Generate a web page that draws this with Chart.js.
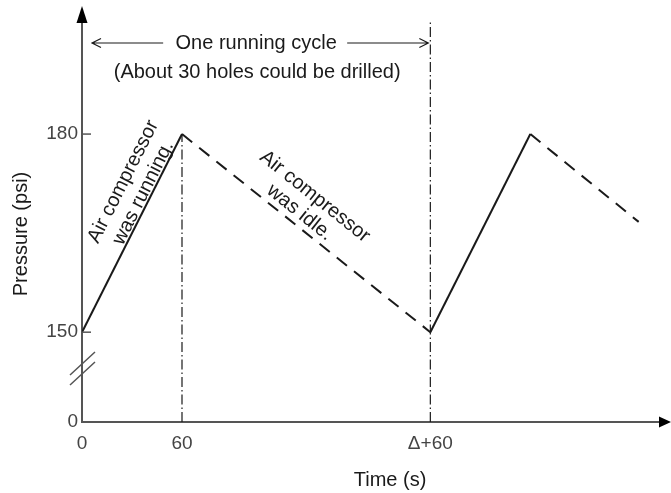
<!DOCTYPE html>
<html>
<head>
<meta charset="utf-8">
<script src="https://cdn.jsdelivr.net/npm/chart.js@4.4.0/dist/chart.umd.min.js"></script>
<style>body{margin:0;background:#fff}</style>
</head>
<body>
<canvas id="chart" width="671" height="493"></canvas>
<script>
// pressure trace (s, psi) - rising = compressor running, falling = idle
const times = [0, 60, 209, 269, 334];
const pressures = [150, 180, 150, 180, 166.7];

// axis ticks (y axis is broken between 0 and 150)
const xTicks = [0, 60, 209];
const xLabels = ["0", "60", "Δ+60"];
const yTicks = [136.4, 150, 180];
const yLabels = ["0", "150", "180"];

// vertical dash-dot guides: time and pressure where they stop
const guideTimes = [60, 209];
const guideTops = [180, 197.3];

const X_MAX = 346.8, Y_MIN = 136.4, Y_MAX = 196.97;
const FONT = "'Liberation Sans', Arial, sans-serif";
const INK = "#1a1a1a", AXIS = "#555";

Chart.defaults.font.family = FONT;

const datasets = guideTimes.map((t, i) => ({
  data: [{x: t, y: Y_MIN}, {x: t, y: guideTops[i]}],
  borderColor: INK, borderWidth: 1.2, borderDash: [10, 3, 1.5, 3],
  pointRadius: 0, clip: false
}));
datasets.push({
  data: times.map((t, i) => ({x: t, y: pressures[i]})),
  borderColor: INK, borderWidth: 2, pointRadius: 0,
  segment: {borderDash: c => c.p1.parsed.y < c.p0.parsed.y ? [13, 9] : undefined}
});

function text(ctx, s, x, y, ang, size) {
  ctx.save();
  ctx.translate(x, y);
  ctx.rotate(ang || 0);
  ctx.font = (size || 20) + "px " + FONT;
  ctx.fillStyle = INK;
  ctx.textAlign = "center";
  ctx.textBaseline = "middle";
  ctx.fillText(s, 0, 0);
  ctx.restore();
}

function slopeLabel(ctx, xs, ys, i, lines) {
  const x0 = xs.getPixelForValue(times[i]), y0 = ys.getPixelForValue(pressures[i]);
  const x1 = xs.getPixelForValue(times[i + 1]), y1 = ys.getPixelForValue(pressures[i + 1]);
  const ang = Math.atan2(y1 - y0, x1 - x0);
  const ux = Math.cos(ang), uy = Math.sin(ang);
  const nx = uy, ny = -ux;
  const mx = (x0 + x1) / 2, my = (y0 + y1) / 2;
  lines.forEach(l => text(ctx, l[0], mx + l[1] * ux + l[2] * nx, my + l[1] * uy + l[2] * ny, ang));
}

const decor = {
  id: "decor",
  afterDraw(chart) {
    const ctx = chart.ctx, xs = chart.scales.x, ys = chart.scales.y;
    const a = chart.chartArea;
    ctx.save();
    ctx.fillStyle = "#000";
    // axis arrows
    ctx.beginPath();
    ctx.moveTo(a.left - 5.5, a.top + 1); ctx.lineTo(a.left + 5.5, a.top + 1); ctx.lineTo(a.left, a.top - 16);
    ctx.fill();
    ctx.beginPath();
    ctx.moveTo(a.right - 1, a.bottom - 5.5); ctx.lineTo(a.right - 1, a.bottom + 5.5); ctx.lineTo(a.right + 11, a.bottom);
    ctx.fill();
    // inward y tick marks
    ctx.strokeStyle = AXIS; ctx.lineWidth = 1.5;
    yTicks.slice(1).forEach(v => {
      const y = ys.getPixelForValue(v);
      ctx.beginPath(); ctx.moveTo(a.left, y); ctx.lineTo(a.left + 9, y); ctx.stroke();
    });
    // axis break marks
    ctx.beginPath();
    ctx.moveTo(70, 375); ctx.lineTo(95, 352);
    ctx.moveTo(70, 385); ctx.lineTo(95, 362);
    ctx.stroke();
    // running cycle arrow
    const xa = xs.getPixelForValue(0) + 10, xb = xs.getPixelForValue(xTicks[2]) - 2, ya = 43;
    const xc = (xs.getPixelForValue(0) + xs.getPixelForValue(xTicks[2])) / 2;
    ctx.strokeStyle = INK; ctx.lineWidth = 1.2;
    ctx.beginPath();
    ctx.moveTo(xa, ya); ctx.lineTo(xc - 93, ya);
    ctx.moveTo(xc + 91, ya); ctx.lineTo(xb, ya);
    ctx.moveTo(xa + 9, ya - 4.5); ctx.lineTo(xa, ya); ctx.lineTo(xa + 9, ya + 4.5);
    ctx.moveTo(xb - 9, ya - 4.5); ctx.lineTo(xb, ya); ctx.lineTo(xb - 9, ya + 4.5);
    ctx.stroke();
    text(ctx, "One running cycle", xc, ya);
    text(ctx, "(About 30 holes could be drilled)", xc + 1, 72);
    // labels along the trace
    slopeLabel(ctx, xs, ys, 0, [["Air compressor", 42, 31], ["was running.", 41, 8]]);
    slopeLabel(ctx, xs, ys, 1, [["Air compressor", -16, 34], ["was idle.", -18, 12]]);
    // axis titles
    text(ctx, "Pressure (psi)", 21, 234, -Math.PI / 2);
    text(ctx, "Time (s)", 390, 480);
    ctx.restore();
  }
};

new Chart(document.getElementById("chart"), {
  type: "line",
  data: {datasets},
  options: {
    responsive: false,
    animation: false,
    layout: {padding: {top: 22, right: 11, left: 0, bottom: 0}},
    plugins: {legend: {display: false}, tooltip: {enabled: false}},
    scales: {
      x: {
        type: "linear", min: 0, max: X_MAX,
        afterBuildTicks: s => { s.ticks = xTicks.map(v => ({value: v})); },
        afterFit: s => { s.height = 71; },
        ticks: {callback: (v, i) => xLabels[i], font: {size: 19}, color: "#444", padding: 10, maxRotation: 0, autoSkip: false},
        grid: {display: false, drawTicks: false},
        border: {display: true, color: AXIS, width: 2}
      },
      y: {
        min: Y_MIN, max: Y_MAX,
        afterBuildTicks: s => { s.ticks = yTicks.map(v => ({value: v})); },
        afterFit: s => { s.width = 82; },
        ticks: {callback: (v, i) => yLabels[i], font: {size: 19}, color: "#444", padding: 4, autoSkip: false},
        grid: {display: false, drawTicks: false},
        border: {display: true, color: AXIS, width: 2}
      }
    }
  },
  plugins: [decor]
});
</script>
</body>
</html>
